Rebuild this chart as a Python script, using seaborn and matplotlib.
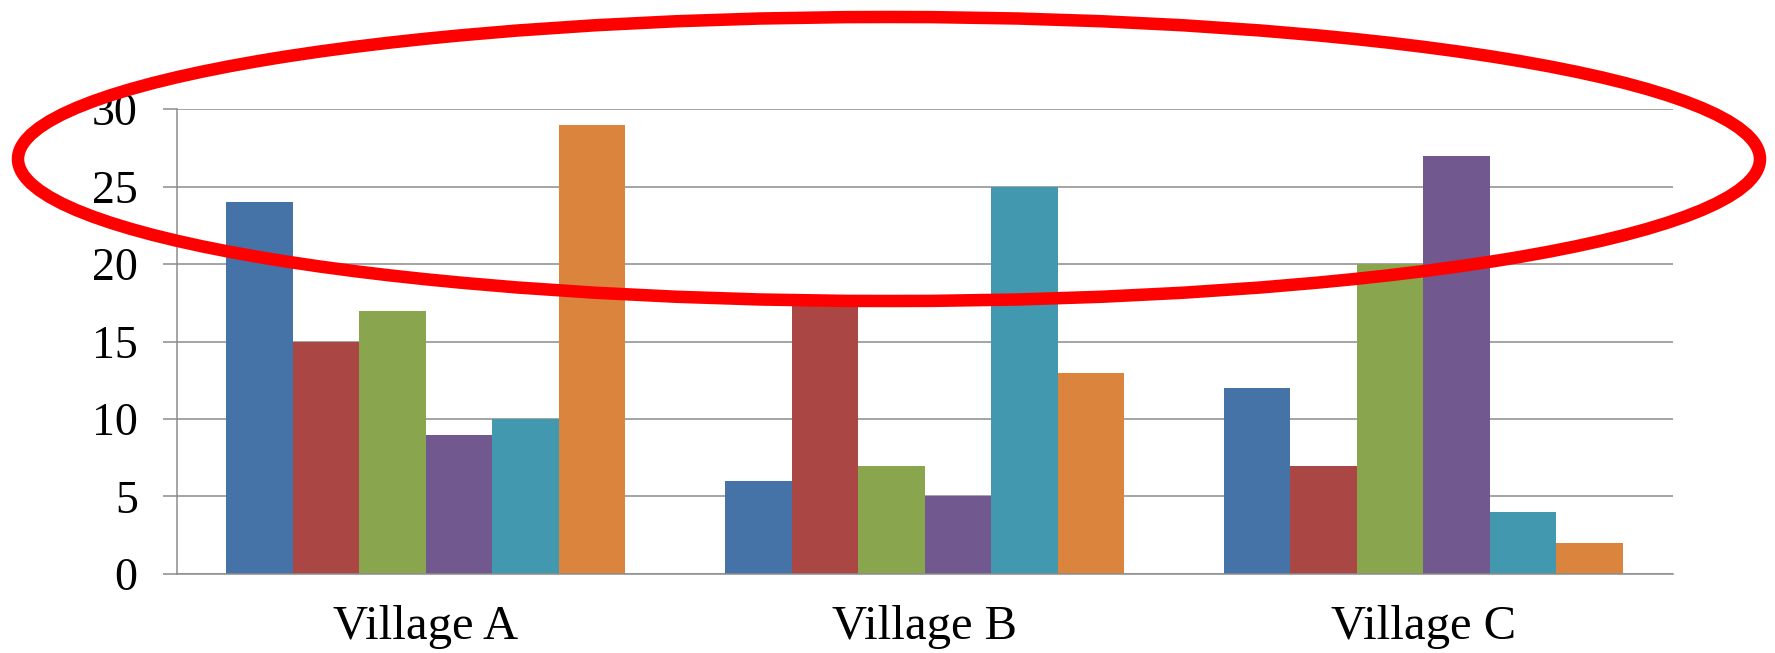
import matplotlib
matplotlib.use("Agg")
import matplotlib.pyplot as plt
from matplotlib.patches import Ellipse
import pandas as pd
import seaborn as sns

# Data
villages = ["Village A", "Village B", "Village C"]
series = ["S1", "S2", "S3", "S4", "S5", "S6"]
values_a = [24, 15, 17, 9, 10, 29]
values_b = [6, 18, 7, 5, 25, 13]
values_c = [12, 7, 20, 27, 4, 2]
y_ticks = [0, 5, 10, 15, 20, 25, 30]
colors = ["#4572A7", "#AA4643", "#89A54E", "#71588F", "#4198AF", "#DB843D"]

rows = []
for v, vals in zip(villages, [values_a, values_b, values_c]):
    for s, val in zip(series, vals):
        rows.append({"village": v, "series": s, "value": val})
df = pd.DataFrame(rows)

sns.set_style("white")
plt.rcParams["font.family"] = ["Liberation Serif", "DejaVu Serif"]
plt.rcParams["text.color"] = "black"
plt.rcParams["xtick.labelcolor"] = "black"
plt.rcParams["ytick.labelcolor"] = "black"

fig = plt.figure(figsize=(17.75, 6.53), dpi=100)
ax = fig.add_axes([0.0995, 0.121, 0.8429, 0.712])

sns.barplot(data=df, x="village", y="value", hue="series", palette=colors,
            order=villages, hue_order=series, width=0.8, gap=0,
            saturation=1, linewidth=0, legend=False, ax=ax)

grid_color = "#8c8c8c"
ax.set_ylim(0, 30)
ax.set_xlim(-0.5, 2.5)
ax.set_yticks(y_ticks)
ax.set_yticklabels([str(t) for t in y_ticks], fontsize=33, color="black")
ax.yaxis.grid(True, color=grid_color, linewidth=1.1)
ax.set_axisbelow(True)

# category labels centred, tick marks at the category boundaries
ax.set_xticks(range(len(villages)))
ax.set_xticklabels(villages, fontsize=35, color="black")
ax.set_xticks([-0.5, 0.5, 1.5, 2.5], minor=True)
ax.tick_params(axis="x", which="major", length=0, pad=22)
ax.tick_params(axis="x", which="minor", length=10, width=1.1, color=grid_color, direction="out")
ax.tick_params(axis="y", length=10, width=1.1, color=grid_color, direction="out", pad=18, left=True)

ax.set_xlabel("")
ax.set_ylabel("")
for side in ["top", "right"]:
    ax.spines[side].set_visible(False)
for side in ["left", "bottom"]:
    ax.spines[side].set_color(grid_color)
    ax.spines[side].set_linewidth(1.1)

# red highlight ring around the upper part of the chart
W, H = 1775.0, 653.0
ring = Ellipse((889 / W, 1 - 159 / H), 2 * 871 / W, 2 * 142 / H,
               transform=fig.transFigure, fill=False, edgecolor="#ff0000",
               linewidth=9, clip_on=False, zorder=10)
fig.add_artist(ring)

fig.savefig("out.png", dpi=100)
